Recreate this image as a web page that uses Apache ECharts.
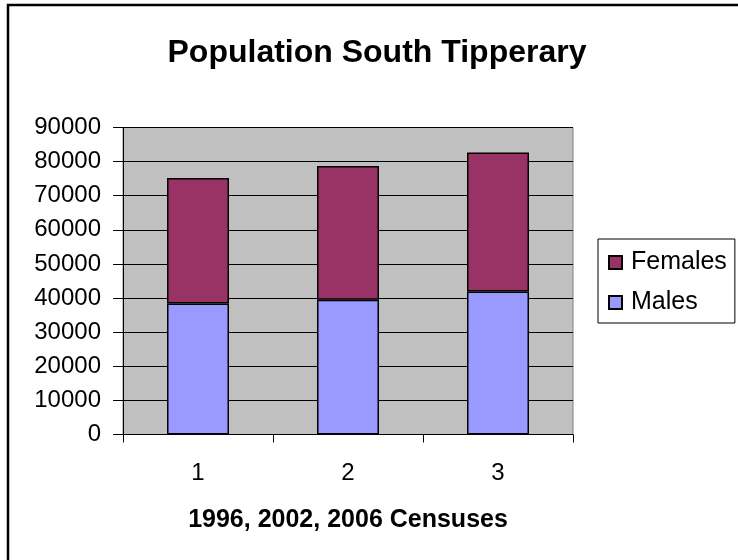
<!DOCTYPE html>
<html>
<head>
<meta charset="utf-8">
<script src="https://cdn.jsdelivr.net/npm/echarts@6/dist/echarts.min.js"></script>
<style>html,body{margin:0;padding:0;background:#fff;}#c{width:738px;height:560px;}</style>
</head>
<body>
<div id="c"></div>
<script>
var categories = ['1', '2', '3'];
var males = [38400, 39500, 41900];
var females = [36800, 39200, 40800];
var yTicks = { min: 0, max: 90000, interval: 10000 };
var titleText = 'Population South Tipperary';
var xName = '1996, 2002, 2006 Censuses';

var FONT = '"Liberation Sans", Arial, sans-serif';
var chart = echarts.init(document.getElementById('c'), null, { renderer: 'canvas' });
chart.setOption({
  backgroundColor: '#ffffff',
  animation: false,
  textStyle: { fontFamily: FONT, color: '#000' },
  title: {
    text: titleText,
    left: 372, top: 32, textAlign: 'center',
    textStyle: { fontFamily: FONT, fontSize: 32, fontWeight: 'bold', color: '#000' }
  },
  graphic: [{
    type: 'rect', shape: { x: 8, y: 5, width: 800, height: 700 },
    style: { fill: 'none', stroke: '#000', lineWidth: 2.5 }, silent: true, z: 100
  }],
  legend: {
    orient: 'vertical', left: 598, top: 239,
    data: ['Females', 'Males'], icon: 'rect',
    backgroundColor: '#fff', borderColor: '#000', borderWidth: 1,
    padding: [11, 8, 8, 10], itemGap: 15, itemWidth: 13, itemHeight: 13,
    textStyle: { fontFamily: FONT, fontSize: 25, color: '#000', padding: [0, 0, 0, 4] }
  },
  grid: {
    left: 123, right: 165, top: 127.5, bottom: 125.5,
    show: true, backgroundColor: '#C0C0C0', borderColor: '#808080', borderWidth: 1
  },
  xAxis: {
    type: 'category', data: categories,
    name: xName, nameLocation: 'middle', nameGap: 73,
    nameTextStyle: { fontFamily: FONT, fontSize: 25, fontWeight: 'bold', color: '#000' },
    axisLine: { lineStyle: { color: '#000', width: 1 } },
    axisTick: { show: true, length: 8, lineStyle: { color: '#000' } },
    axisLabel: { fontFamily: FONT, fontSize: 24, color: '#000', margin: 27 },
    splitLine: { show: false }
  },
  yAxis: {
    type: 'value', min: yTicks.min, max: yTicks.max, interval: yTicks.interval,
    axisLine: { show: true, lineStyle: { color: '#000', width: 1 } },
    axisTick: { show: true, length: 10, lineStyle: { color: '#000' } },
    axisLabel: { fontFamily: FONT, fontSize: 24, color: '#000', margin: 22,
      formatter: function (v) { return String(v); } },
    splitLine: { show: true, lineStyle: { color: '#000', width: 1 } }
  },
  series: [
    {
      name: 'Males', type: 'bar', stack: 'pop', data: males, barWidth: 62,
      itemStyle: { color: '#9999FF', borderColor: '#000', borderWidth: 1.5 }
    },
    {
      name: 'Females', type: 'bar', stack: 'pop', data: females, barWidth: 62,
      itemStyle: { color: '#993366', borderColor: '#000', borderWidth: 1.5 }
    }
  ]
});
</script>
</body>
</html>
